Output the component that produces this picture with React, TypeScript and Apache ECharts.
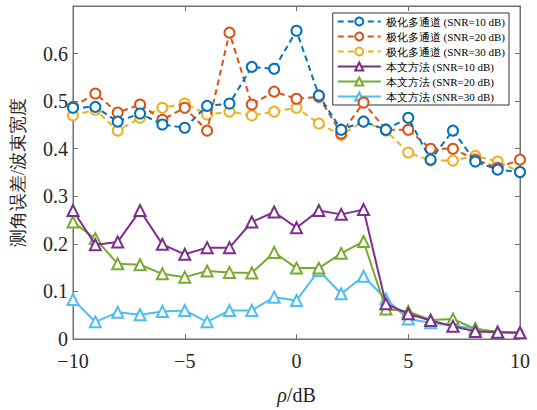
import React, { useEffect, useRef } from "react";
import * as echarts from "echarts";

const xValues = [-10, -9, -8, -7, -6, -5, -4, -3, -2, -1, 0, 1, 2, 3, 4, 5, 6, 7, 8, 9, 10];

const polSnr10 = [0.486, 0.488, 0.457, 0.474, 0.451, 0.444, 0.49, 0.495, 0.572, 0.568, 0.648, 0.512, 0.44, 0.457, 0.44, 0.465, 0.377, 0.438, 0.373, 0.356, 0.351];
const polSnr20 = [0.488, 0.516, 0.476, 0.493, 0.461, 0.486, 0.438, 0.644, 0.493, 0.52, 0.505, 0.509, 0.432, 0.497, 0.44, 0.44, 0.4, 0.4, 0.377, 0.36, 0.377];
const polSnr30 = [0.47, 0.482, 0.438, 0.465, 0.486, 0.495, 0.472, 0.478, 0.47, 0.478, 0.486, 0.453, 0.429, 0.457, 0.438, 0.392, 0.375, 0.375, 0.385, 0.373, 0.351];
const oursSnr10 = [0.27, 0.198, 0.204, 0.27, 0.199, 0.178, 0.192, 0.192, 0.246, 0.267, 0.234, 0.27, 0.262, 0.272, 0.074, 0.053, 0.039, 0.027, 0.016, 0.014, 0.013];
const oursSnr20 = [0.246, 0.211, 0.158, 0.156, 0.137, 0.13, 0.143, 0.14, 0.139, 0.182, 0.149, 0.149, 0.18, 0.205, 0.063, 0.058, 0.04, 0.042, 0.021, 0.015, 0.013];
const oursSnr30 = [0.083, 0.036, 0.056, 0.051, 0.058, 0.06, 0.036, 0.06, 0.06, 0.088, 0.081, 0.144, 0.095, 0.132, 0.084, 0.042, 0.034, 0.028, 0.022, 0.014, 0.013];

const seriesNames = [
  "极化多通道 (SNR=10 dB)",
  "极化多通道 (SNR=20 dB)",
  "极化多通道 (SNR=30 dB)",
  "本文方法 (SNR=10 dB)",
  "本文方法 (SNR=20 dB)",
  "本文方法 (SNR=30 dB)",
];
const seriesColors = ["#0072BD", "#D95319", "#EDB120", "#7E2F8E", "#77AC30", "#4DBEEE"];
const seriesData = [polSnr10, polSnr20, polSnr30, oursSnr10, oursSnr20, oursSnr30];

const yAxisName = "测角误差/波束宽度";
const FONT = "Liberation Serif";

export default function App() {
  const ref = useRef<HTMLDivElement>(null);
  useEffect(() => {
    if (!ref.current) return;
    const chart = echarts.init(ref.current, undefined, { renderer: "svg" });
    const axisColor = "#707070";
    const fmtNum = (v: number) => (v < 0 ? "\u2212" + Math.abs(v) : String(v));
    const series = seriesData.map((d, i) => {
      const dashed = i < 3;
      return {
        name: seriesNames[i],
        type: "line",
        xAxisIndex: 0,
        yAxisIndex: 0,
        data: d.map((v, k) => [xValues[k], v]),
        symbol: dashed ? "emptyCircle" : "emptyTriangle",
        symbolSize: dashed ? 10 : 11,
        color: seriesColors[i],
        lineStyle: { color: seriesColors[i], width: 2, type: dashed ? [6, 4] : "solid" },
        itemStyle: { color: seriesColors[i], borderColor: seriesColors[i], borderWidth: 2 },
        z: 10 - i,
      };
    });
    const tick = { show: true, inside: true, length: 5, lineStyle: { color: axisColor } };
    chart.setOption({
      animation: false,
      backgroundColor: "#ffffff",
      textStyle: { fontFamily: FONT },
      grid: { left: 73, right: 17, top: 6, bottom: 70, containLabel: false, show: true, borderColor: axisColor, borderWidth: 1, backgroundColor: "transparent" },
      legend: {
        data: seriesNames,
        orient: "vertical",
        right: 28,
        top: 13,
        itemWidth: 43,
        itemHeight: 10,
        itemGap: 4,
        padding: [3, 4, 3, 4],
        backgroundColor: "#ffffff",
        borderColor: "#333333",
        borderWidth: 1,
        borderRadius: 0,
        textStyle: { fontSize: 11, fontFamily: FONT, color: "#000" },
      },
      xAxis: [
        {
          type: "value",
          min: -10,
          max: 10,
          interval: 5,
          position: "bottom",
          name: "{i|ρ}/dB",
          nameLocation: "middle",
          nameGap: 46,
          nameTextStyle: {
            fontSize: 20,
            fontFamily: FONT,
            color: "#262626",
            rich: { i: { fontStyle: "italic", fontSize: 20, fontFamily: FONT, color: "#262626" } },
          },
          axisLine: { show: true, onZero: false, lineStyle: { color: axisColor, width: 1 } },
          axisTick: tick,
          axisLabel: { fontSize: 20, lineHeight: 18, fontFamily: FONT, color: "#262626", margin: 13, formatter: fmtNum },
          splitLine: { show: false },
        },
        {
          type: "value",
          min: -10,
          max: 10,
          interval: 5,
          position: "top",
          axisLine: { show: true, onZero: false, lineStyle: { color: axisColor, width: 1 } },
          axisTick: tick,
          axisLabel: { show: false },
          splitLine: { show: false },
        },
      ],
      yAxis: [
        {
          type: "value",
          min: 0,
          max: 0.7,
          interval: 0.1,
          position: "left",
          name: yAxisName,
          nameLocation: "middle",
          nameGap: 46,
          nameRotate: 90,
          nameTextStyle: { fontSize: 18, fontFamily: FONT, color: "#262626" },
          axisLine: { show: true, onZero: false, lineStyle: { color: axisColor, width: 1 } },
          axisTick: tick,
          axisLabel: {
            fontSize: 20,
            lineHeight: 18,
            fontFamily: FONT,
            color: "#262626",
            margin: 5,
            formatter: (v: number) => (v > 0.65 ? "" : String(Math.round(v * 10) / 10)),
          },
          splitLine: { show: false },
        },
        {
          type: "value",
          min: 0,
          max: 0.7,
          interval: 0.1,
          position: "right",
          axisLine: { show: true, onZero: false, lineStyle: { color: axisColor, width: 1 } },
          axisTick: tick,
          axisLabel: { show: false },
          splitLine: { show: false },
        },
      ],
      series,
    });
    return () => chart.dispose();
  }, []);
  return <div ref={ref} style={{ width: 537, height: 410, position: "absolute", left: 0, top: 0 }} />;
}
